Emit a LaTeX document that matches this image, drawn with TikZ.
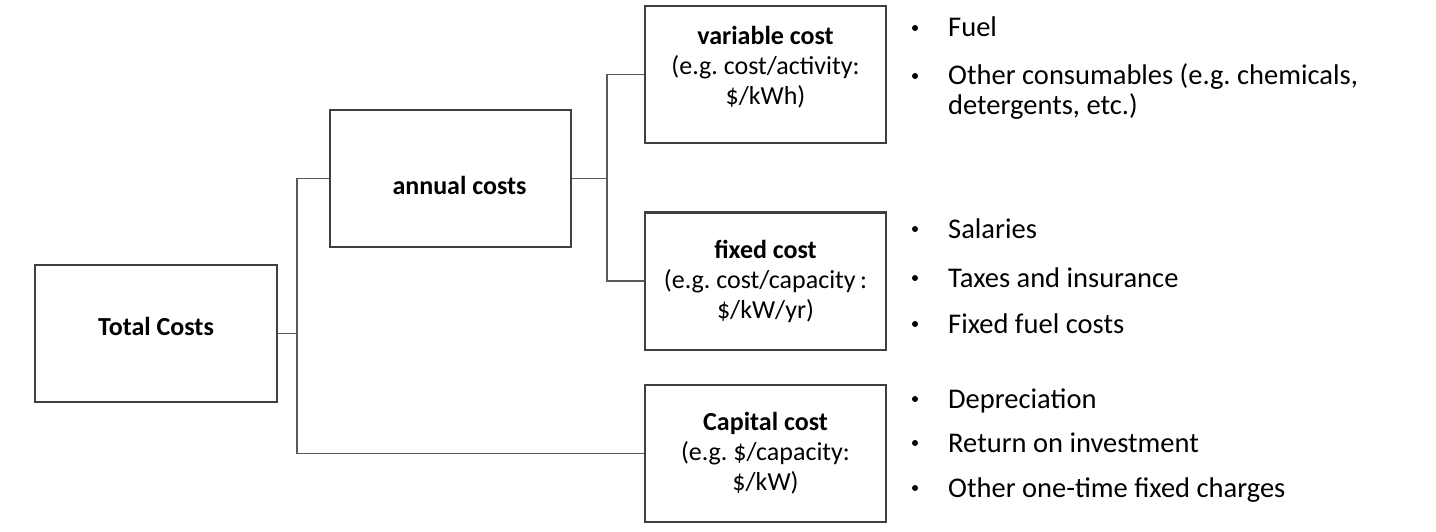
\documentclass[tikz,border=0pt]{standalone}
\usepackage{fontspec}
\setmainfont{Carlito}
\usepackage{xcolor}
\usetikzlibrary{positioning,calc}
\definecolor{boxgray}{RGB}{64,64,64}
\definecolor{linkgray}{RGB}{90,90,90}
\frenchspacing

\begin{document}
\begin{tikzpicture}[
    x=1pt, y=-1pt,
    costbox/.style={rectangle, draw=boxgray, line width=2pt, minimum width=241pt, minimum height=137pt, inner sep=0pt, align=center, font=\fontsize{26}{30}\selectfont},
    itembox/.style={anchor=base west, inner sep=0pt, font=\fontsize{28.5}{30}\selectfont},
    dotbox/.style={circle, fill=black, minimum size=6pt, inner sep=0pt},
    link/.style={draw=linkgray, line width=1.6pt},
]
    \useasboundingbox[fill=white] (0,0) rectangle (1436,532);

    % cost boxes
    \node[costbox, minimum width=242pt] (total) at (156, 333.5) {\textbf{Total Costs}\\[-16pt]};
    \node[costbox] (annual) at (450.5, 178.5) {\mbox{}\\[2pt]\hspace*{18pt}\textbf{annual costs}};
    \node[costbox] (variable) at (765.5, 74.5) {\textbf{variable cost}\\(e.g. cost/activity:\\\$/kWh)\\[-12pt]};
    \node[costbox] (fixed) at (765.5, 281) {\textbf{fixed cost}\\(e.g. cost/capacity\,:\\\$/kW/yr)};
    \node[costbox] (capital) at (765.5, 453.5) {\textbf{Capital cost}\\(e.g. \$/capacity:\\\$/kW)};

    % tree connectors
    \draw[link] (total.east) -- ++(19,0) |- (annual.west);
    \draw[link] (total.east) -- ++(19,0) |- (capital.west);
    \draw[link] (annual.east) -- ++(35,0) |- (variable.west);
    \draw[link] (annual.east) -- ++(35,0) |- (fixed.west);

    % bullet lists
    \foreach \y/\t [count=\i] in {37/Fuel, 85/{Other consumables (e.g. chemicals,}, 238/Salaries, 287/Taxes and insurance, 333/Fixed fuel costs, 408/Depreciation, 452/Return on investment, 497/Other one-time fixed charges} {
        \node[dotbox] (dot\i) at (915, \y-9) {};
        \node[itembox] (item\i) at (948, \y) {\t};
    }
    \node[itembox] (item2b) at (948, 115) {detergents, etc.)};
\end{tikzpicture}
\end{document}
